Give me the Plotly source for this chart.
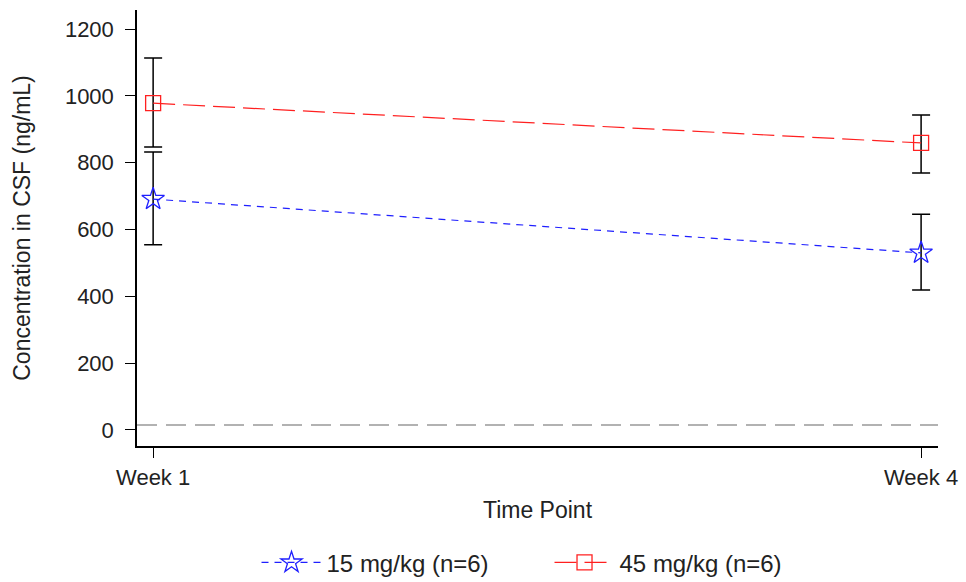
import plotly.graph_objects as go

time_points = ["Week 1", "Week 4"]
x_pos = [0, 1]

dose15_mean = [691, 530]
dose15_lower = [554, 419]
dose15_upper = [832, 646]

dose45_mean = [978, 859]
dose45_lower = [847, 769]
dose45_upper = [1113, 943]

lloq = 15

y_ticks = [0, 200, 400, 600, 800, 1000, 1200]

FONT = "Liberation Sans, Arial, sans-serif"

def err(mean, lo, hi):
    return dict(type="data", symmetric=False,
                array=[h - m for m, h in zip(mean, hi)],
                arrayminus=[m - l for m, l in zip(mean, lo)],
                color="black", thickness=1.5, width=9)

fig = go.Figure()

fig.add_trace(go.Scatter(
    x=x_pos, y=dose15_mean, mode="lines+markers", name="15 mg/kg (n=6)",
    line=dict(color="#1f1fff", width=1.2, dash="7px,6px"),
    marker=dict(symbol="star-open", size=17, color="#1f1fff", line=dict(width=1.3)),
    error_y=err(dose15_mean, dose15_lower, dose15_upper),
))
fig.add_trace(go.Scatter(
    x=x_pos, y=dose45_mean, mode="lines+markers", name="45 mg/kg (n=6)",
    line=dict(color="#ff2020", width=1.2, dash="22px,8px"),
    marker=dict(symbol="square-open", size=15, color="#ff2020", line=dict(width=1.3)),
    error_y=err(dose45_mean, dose45_lower, dose45_upper),
))

fig.add_shape(type="line", xref="paper", yref="y", x0=0, x1=1, y0=lloq, y1=lloq,
              line=dict(color="#999999", width=1.5, dash="20px,9px"), layer="below")

fig.update_layout(
    width=966, height=582,
    margin=dict(l=137, r=28, t=10, b=136, autoexpand=False),
    paper_bgcolor="white", plot_bgcolor="white",
    font=dict(family=FONT, size=22, color="#222222"),
    showlegend=True,
    legend=dict(orientation="h", x=0.515, xanchor="center", y=-0.268, yanchor="middle",
                font=dict(size=24), itemwidth=60, tracegroupgap=0, entrywidth=218),
    xaxis=dict(
        range=[-0.021, 1.022], tickmode="array", tickvals=x_pos, ticktext=time_points,
        showgrid=False, zeroline=False, showline=True, linecolor="black", linewidth=1.5,
        ticks="outside", ticklen=10, tickwidth=1.3, tickcolor="black",
        tickfont=dict(size=22), ticklabelstandoff=1,
        title=dict(text="Time Point", standoff=13, font=dict(size=23)),
    ),
    yaxis=dict(
        range=[-48, 1257], tickmode="array", tickvals=y_ticks,
        showgrid=False, zeroline=False, showline=True, linecolor="black", linewidth=1.5,
        ticks="outside", ticklen=10, tickwidth=1.3, tickcolor="black",
        tickfont=dict(size=22), ticklabelstandoff=7,
        title=dict(text="Concentration in CSF (ng/mL)", standoff=28, font=dict(size=23)),
    ),
)

fig.write_html("out.html")
